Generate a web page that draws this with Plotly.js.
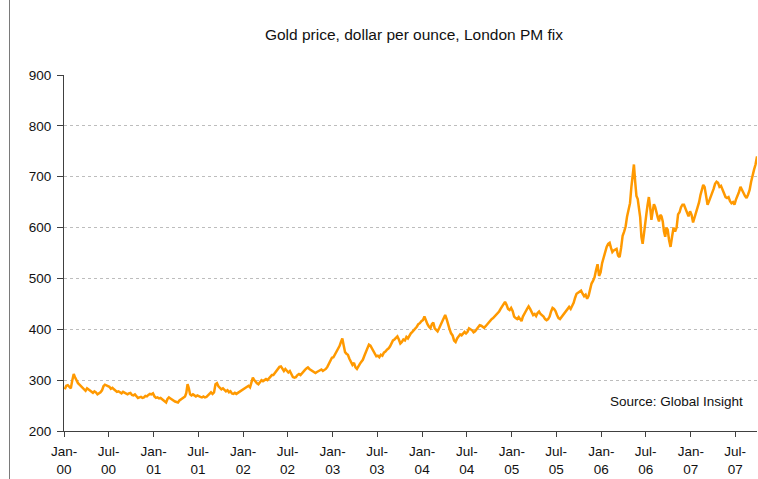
<!DOCTYPE html>
<html>
<head>
<meta charset="utf-8">
<script src="https://cdn.plot.ly/plotly-3.0.1.min.js"></script>
<style>
  html, body { margin: 0; padding: 0; background: #ffffff; }
  #chart { width: 758px; height: 479px; }
</style>
</head>
<body>
<div id="chart"></div>
<script>
// Gold price, dollar per ounce, London PM fix — readings per month (several per month, in order)
const gold2000 = [
  [282, 289, 290, 286, 284], [300, 312, 305, 298, 294], [291, 288, 286, 283, 279],
  [284, 282, 280, 277, 275], [278, 276, 272, 274, 276], [280, 288, 291, 290, 288],
  [287, 283, 285, 282, 279], [277, 278, 276, 274, 277], [275, 273, 272, 274, 275],
  [271, 270, 272, 268, 265], [266, 267, 265, 266, 269], [268, 271, 273, 272, 274]
];
const gold2001 = [
  [268, 265, 266, 264, 265], [263, 261, 258, 256, 263], [266, 264, 262, 259, 258],
  [257, 256, 260, 262, 263], [265, 268, 275, 292, 284, 272], [270, 272, 270, 268, 270],
  [268, 267, 266, 268, 266], [267, 270, 273, 276, 273], [276, 292, 294, 288, 285],
  [282, 284, 280, 278, 280], [276, 278, 274, 273, 275], [273, 275, 276, 278, 280]
];
const gold2002 = [
  [282, 284, 287, 289, 286], [295, 305, 300, 296, 294], [292, 295, 300, 298, 301],
  [302, 300, 304, 308, 310], [310, 314, 318, 322, 326], [327, 322, 318, 322, 318],
  [315, 318, 312, 306, 305], [306, 310, 312, 310, 314], [316, 320, 323, 325, 322],
  [320, 318, 316, 314, 316], [318, 319, 321, 318, 320], [322, 326, 332, 338, 344]
];
const gold2003 = [
  [345, 350, 356, 360, 367], [375, 382, 368, 355, 352], [350, 342, 336, 330, 334],
  [325, 322, 328, 332, 336], [340, 348, 355, 362, 370], [368, 362, 358, 352, 347],
  [348, 345, 350, 348, 354], [356, 360, 362, 366, 372], [378, 380, 384, 386, 380],
  [372, 375, 380, 378, 385], [382, 388, 392, 395, 398], [402, 405, 410, 412, 416]
];
const gold2004 = [
  [418, 425, 416, 410, 405], [402, 410, 413, 402, 398], [396, 402, 408, 415, 422],
  [428, 420, 408, 400, 392], [388, 378, 375, 382, 385], [390, 388, 392, 395, 392],
  [395, 402, 400, 398, 394], [396, 400, 404, 408, 407], [405, 403, 406, 410, 412],
  [418, 420, 422, 425, 428], [430, 435, 440, 445, 450], [454, 448, 440, 438, 442]
];
const gold2005 = [
  [436, 425, 422, 420, 424], [420, 416, 425, 432, 435], [440, 445, 440, 432, 428],
  [430, 426, 432, 435, 430], [428, 425, 420, 418, 420], [425, 435, 442, 440, 436],
  [428, 422, 420, 424, 428], [432, 438, 442, 444, 440], [445, 452, 462, 470, 472],
  [474, 476, 470, 465, 468], [460, 466, 480, 490, 495], [502, 516, 528, 505, 512]
];
const gold2006 = [
  [530, 542, 552, 562, 568], [570, 560, 552, 555, 556], [558, 545, 542, 560, 584],
  [592, 602, 622, 636, 648], [680, 702, 724, 690, 662, 656], [640, 620, 582, 568, 586, 614],
  [626, 645, 660, 640, 615, 632], [646, 640, 626, 620, 612, 625], [622, 612, 592, 582, 600, 596],
  [576, 562, 582, 600, 592], [600, 626, 630, 640, 645], [645, 636, 628, 622, 632]
];
const gold2007 = [
  [625, 610, 620, 635, 645], [650, 664, 672, 684, 680], [660, 645, 652, 660, 665],
  [676, 686, 690, 688, 680], [682, 675, 668, 660, 658], [660, 652, 648, 650, 645],
  [655, 662, 670, 680, 672], [668, 662, 658, 665, 674], [690, 706, 714, 724, 740]
];

const goldYears = [2000, 2001, 2002, 2003, 2004, 2005, 2006, 2007];
const goldByYear = [gold2000, gold2001, gold2002, gold2003, gold2004, gold2005, gold2006, gold2007];

const chartTitle = 'Gold price, dollar per ounce, London PM fix';
const sourceNote = 'Source: Global Insight';

// spread each month's readings evenly through that month
const xDates = [];
const yPrices = [];
goldByYear.forEach(function (months, yi) {
  const yr = goldYears[yi];
  months.forEach(function (vals, m) {
    const start = Date.UTC(yr, m, 1);
    const end = Date.UTC(yr, m + 1, 1);
    vals.forEach(function (v, i) {
      const t = start + (end - start) * (i + 0.5) / vals.length;
      xDates.push(new Date(t).toISOString().slice(0, 19).replace('T', ' '));
      yPrices.push(v);
    });
  });
});

const W = 758, H = 479, ML = 64, MR = 1, MT = 75, MB = 48;
const PW = W - ML - MR, PH = H - MT - MB;
const px2x = function (p) { return (p - ML) / PW; };
const px2y = function (p) { return (H - MB - p) / PH; };

const trace = {
  x: xDates,
  y: yPrices,
  type: 'scatter',
  mode: 'lines',
  line: { color: '#ff9900', width: 2.5 },
  hoverinfo: 'x+y'
};

const fontFam = '"Liberation Sans", Arial, sans-serif';

const layout = {
  width: W,
  height: H,
  margin: { l: ML, r: MR, t: MT, b: MB, pad: 0 },
  paper_bgcolor: '#ffffff',
  plot_bgcolor: '#ffffff',
  showlegend: false,
  font: { family: fontFam, size: 13.5, color: '#000000' },
  title: {
    text: chartTitle,
    font: { family: fontFam, size: 15.5, color: '#111111' },
    xref: 'container', yref: 'container',
    x: 414 / W, xanchor: 'center',
    y: 1 - 35 / H, yanchor: 'middle'
  },
  xaxis: {
    type: 'date',
    range: ['2000-01-01', xDates[xDates.length - 1]],
    tick0: '2000-01-01',
    dtick: 'M6',
    tickformat: '%b-<br>%y',
    showgrid: false,
    zeroline: false,
    showline: true,
    linecolor: '#404040',
    linewidth: 1,
    ticks: 'outside',
    ticklen: 5,
    tickcolor: '#404040',
    ticklabelstandoff: 3,
    tickfont: { family: fontFam, size: 13.5, color: '#111111' },
    fixedrange: true
  },
  yaxis: {
    range: [200, 900],
    tick0: 200,
    dtick: 100,
    showgrid: true,
    gridcolor: '#bdbdbd',
    griddash: '3px,3px',
    gridwidth: 1,
    zeroline: false,
    showline: true,
    linecolor: '#404040',
    linewidth: 1,
    ticks: 'outside',
    ticklen: 6,
    tickcolor: '#404040',
    ticklabelstandoff: 3,
    tickfont: { family: fontFam, size: 13.5, color: '#111111' },
    fixedrange: true
  },
  annotations: [
    {
      text: sourceNote,
      xref: 'paper', yref: 'paper',
      x: px2x(745), xanchor: 'right',
      y: px2y(401), yanchor: 'middle',
      showarrow: false,
      font: { family: fontFam, size: 13.5, color: '#111111' }
    }
  ],
  shapes: [
    {
      type: 'line', xref: 'paper', yref: 'paper',
      x0: px2x(9.5), x1: px2x(9.5), y0: px2y(H), y1: px2y(0),
      line: { color: '#7a7a7a', width: 1 }
    }
  ]
};

Plotly.newPlot('chart', [trace], layout, { displayModeBar: false, staticPlot: true });
</script>
</body>
</html>
